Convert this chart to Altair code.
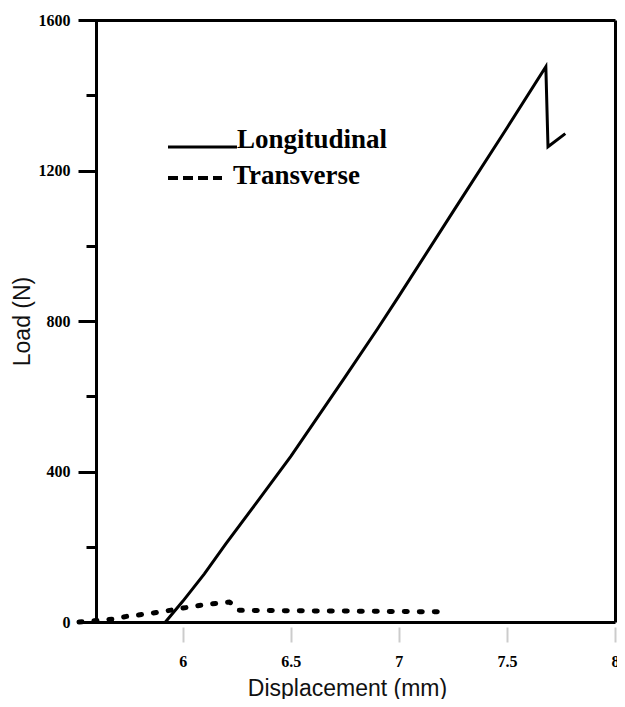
import altair as alt
import pandas as pd

# Longitudinal series (Displacement mm, Load N)
long_x = [5.92, 6.00, 6.10, 6.20, 6.34, 6.50, 6.75, 6.90, 7.00, 7.25, 7.50, 7.68, 7.69, 7.77]
long_y = [0, 55, 128, 208, 316, 440, 650, 778, 866, 1090, 1313, 1476, 1263, 1298]

# Transverse series
trans_x = [5.52, 5.60, 5.68, 5.75, 5.83, 5.90, 5.98, 6.055, 6.13, 6.215, 6.24, 6.26, 6.50, 6.75, 7.00, 7.18]
trans_y = [0, 4, 8, 16, 21, 27, 35, 42, 48, 53, 45, 31, 30, 29, 28, 27]

series_names = ["Longitudinal", "Transverse"]
x_ticks = [6, 6.5, 7, 7.5, 8]
y_ticks = [0, 200, 400, 600, 800, 1000, 1200, 1400, 1600]

df_long = pd.DataFrame({"x": long_x, "y": long_y, "series": series_names[0], "order": range(len(long_x))})
df_trans = pd.DataFrame({"x": trans_x, "y": trans_y, "series": series_names[1], "order": range(len(trans_x))})

xscale = alt.Scale(domain=[5.52, 8], nice=False, zero=False)
yscale = alt.Scale(domain=[0, 1600], nice=False)

xaxis = alt.Axis(
    title="Displacement (mm)", values=x_ticks, orient="bottom", offset=5, format="~g",
    domain=False, ticks=True, tickColor="#cccccc", tickWidth=2, tickSize=15,
    labelPadding=11, labelFlush=False, grid=True,
    gridColor={"condition": {"test": "datum.value === 8", "value": "black"}, "value": "transparent"},
    gridWidth=3, titlePadding=8,
)
yaxis = alt.Axis(
    title="Load (N)", values=y_ticks, orient="left", offset=-17, format="d",
    domain=True, domainColor="black", domainWidth=3,
    ticks=True, tickColor="black", tickWidth=3,
    tickSize={"condition": {"test": "datum.value % 400 === 0", "value": 18}, "value": 10},
    labelExpr="datum.value % 400 === 0 ? datum.label : ''",
    labelPadding=8, labelFlush=False, grid=True,
    gridColor={"condition": {"test": "datum.value === 0 || datum.value === 1600", "value": "black"}, "value": "transparent"},
    gridWidth=3, titlePadding=4,
)

long_line = alt.Chart(df_long).mark_line(color="black", strokeWidth=3, clip=False).encode(
    x=alt.X("x:Q", scale=xscale, axis=xaxis),
    y=alt.Y("y:Q", scale=yscale, axis=yaxis),
    order="order:Q",
)
trans_line = alt.Chart(df_trans).mark_line(
    color="black", strokeWidth=5, strokeDash=[3, 12], strokeCap="round", clip=False
).encode(
    x=alt.X("x:Q", scale=xscale),
    y=alt.Y("y:Q", scale=yscale),
    order="order:Q",
)

leg_df = pd.DataFrame({"label": series_names})
leg_font = dict(font="Liberation Serif", fontWeight="bold", fontSize=27, color="black",
                align="left", baseline="alphabetic")

leg_solid = alt.Chart(leg_df.iloc[[0]]).mark_rule(color="black", strokeWidth=3).encode(
    x=alt.value(89), x2=alt.value(158), y=alt.value(127))
leg_dash = alt.Chart(leg_df.iloc[[1]]).mark_rule(color="black", strokeWidth=4, strokeDash=[10, 5]).encode(
    x=alt.value(89), x2=alt.value(143), y=alt.value(158))
leg_t1 = alt.Chart(leg_df.iloc[[0]]).mark_text(**leg_font).encode(
    x=alt.value(158), y=alt.value(128), text="label:N")
leg_t2 = alt.Chart(leg_df.iloc[[1]]).mark_text(**leg_font).encode(
    x=alt.value(154), y=alt.value(164), text="label:N")

chart = alt.layer(long_line, trans_line, leg_solid, leg_dash, leg_t1, leg_t2).properties(
    width=536, height=602,
    autosize=alt.AutoSizeParams(type="none"),
    padding={"left": 71, "top": 12, "right": 2, "bottom": 77},
).configure_view(stroke=None).configure_axis(
    labelFont="Liberation Serif", labelFontWeight="bold", labelFontSize=16, labelColor="black",
    titleFont="Liberation Sans", titleFontWeight="normal", titleFontSize=23, titleColor="#111111",
)

chart.save("out.html", embed_options={"renderer": "svg", "actions": False})
